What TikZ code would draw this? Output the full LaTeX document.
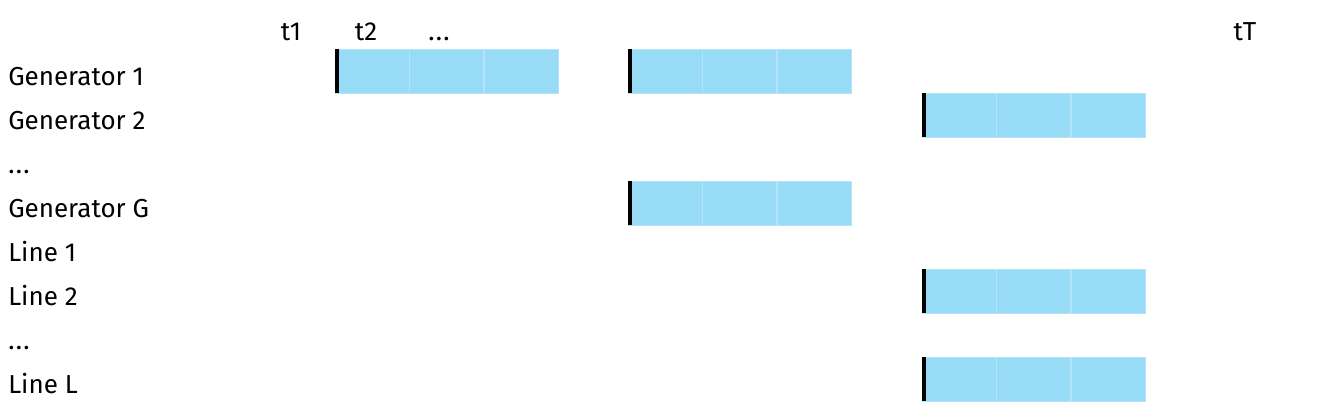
\documentclass[tikz,border=0pt]{standalone}
\usepackage{fontspec}
\setmainfont{Fira Sans}
\usetikzlibrary{positioning}

\definecolor{cellBlue}{RGB}{151,219,247}
\definecolor{cellEdge}{RGB}{178,228,250}
\providecommand{\cellwidth}{55.5pt}
\providecommand{\cellheight}{33pt}
\providecommand{\markthickness}{3pt}

% three unit cells with a start mark: name, left x, row y
\newcommand{\runblock}[3]{%
    \node[cell] (#1a) at ({#2+37}, #3) {};
    \node[cell, right=0pt of #1a] (#1b) {};
    \node[cell, right=0pt of #1b] (#1c) {};
    \draw[startmark] ([xshift=1.5pt]#1a.north west) -- ([xshift=1.5pt]#1a.south west);
}

\begin{document}
\begin{tikzpicture}[
    x=0.75pt, y=-0.75pt,
    % Cell styles
    cell/.style={
        rectangle,
        fill=cellBlue,
        draw=cellEdge,
        line width=0.4pt,
        minimum width=\cellwidth,
        minimum height=\cellheight,
        inner sep=0pt
    },
    startmark/.style={
        line width=\markthickness,
        draw=black
    },
    % Text styles
    rowlabel/.style={
        anchor=base west,
        font=\fontsize{19.5}{22}\selectfont,
        inner sep=0pt
    },
    timelabel/.style={
        anchor=base,
        font=\fontsize{19.5}{22}\selectfont,
        inner sep=0pt
    }
]
    \useasboundingbox (0,0) rectangle (1328,410);

    % ==================== TIME HEADER ====================
    \node[timelabel] (t1) at (291,41) {t1};
    \node[timelabel] (t2) at (366,41) {t2};
    \node[timelabel] (tdots) at (439,41) {.\kern1pt.\kern1pt.};
    \node[timelabel] (tT) at (1245,41) {tT};

    % ==================== ROW LABELS ====================
    \node[rowlabel] (gen1) at (8,85) {Generator 1};
    \node[rowlabel] (gen2) at (8,129) {Generator 2};
    \node[rowlabel] (gendots) at (8,173) {.\kern1pt.\kern1pt.};
    \node[rowlabel] (genG) at (8,217) {Generator G};
    \node[rowlabel] (line1) at (8,261) {Line 1};
    \node[rowlabel] (line2) at (8,305) {Line 2};
    \node[rowlabel] (linedots) at (8,349) {.\kern1pt.\kern1pt.};
    \node[rowlabel] (lineL) at (8,393) {Line L};

    % ==================== ON BLOCKS ====================
    % Generator 1
    \runblock{gOneA}{335}{71}
    \runblock{gOneB}{628}{71}
    % Generator 2
    \runblock{gTwo}{922}{115}
    % Generator G
    \runblock{gG}{628}{203}
    % Line 2
    \runblock{lTwo}{922}{291}
    % Line L
    \runblock{lL}{922}{379}

\end{tikzpicture}
\end{document}
